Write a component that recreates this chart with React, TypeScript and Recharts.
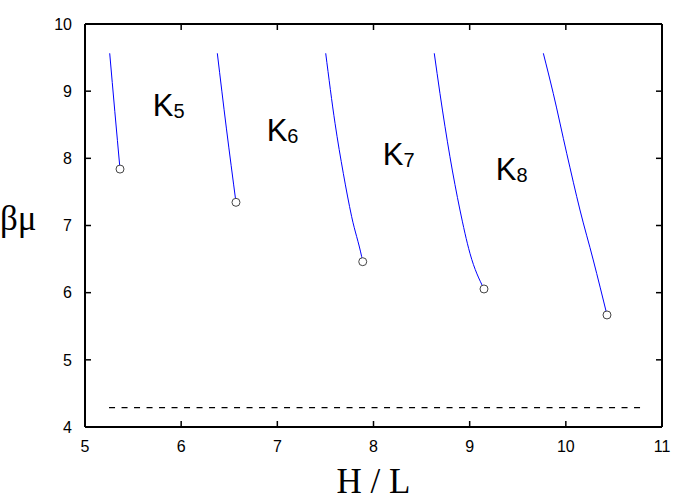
import React from 'react';
import {
  ComposedChart,
  Line,
  XAxis,
  YAxis,
  ReferenceDot,
  Label,
} from 'recharts';

// H/L values for each branch
const k4X = [5.257, 5.31, 5.364];
const k4Y = [9.564, 8.7, 7.84];
const k5X = [6.376, 6.47, 6.57];
const k5Y = [9.564, 8.45, 7.345];
const k6X = [7.503, 7.6, 7.686, 7.773, 7.877, 7.888];
const k6Y = [9.564, 8.522, 7.777, 7.131, 6.536, 6.461];
const k7X = [8.632, 8.691, 8.795, 8.899, 9.003, 9.149];
const k7Y = [9.564, 8.968, 8.024, 7.231, 6.586, 6.055];
const k8X = [9.766, 9.869, 10.009, 10.147, 10.285, 10.428];
const k8Y = [9.564, 8.968, 8.075, 7.231, 6.487, 5.668];

const limitX = [5.25, 10.8];
const limitY = [4.288, 4.288];

const labelNames = ['5', '6', '7', '8'];
const labelX = [5.704, 6.889, 8.096, 9.271];
const labelY = [8.63, 8.258, 7.901, 7.678];

const xTicks = [5, 6, 7, 8, 9, 10, 11];
const yTicks = [4, 5, 6, 7, 8, 9, 10];

const toPoints = (xs: number[], ys: number[]) =>
  xs.map((x, i) => ({ x, y: ys[i] }));

const branches = [
  toPoints(k4X, k4Y),
  toPoints(k5X, k5Y),
  toPoints(k6X, k6Y),
  toPoints(k7X, k7Y),
  toPoints(k8X, k8Y),
];

const sans = 'Liberation Sans, Arial, sans-serif';
const serif = 'Liberation Serif, Times New Roman, serif';
const TICK = 6;

// ticks point into the plot, drawn together with their labels
const BottomTick = (props: any) => {
  const { x, y, payload } = props;
  return (
    <g>
      <line x1={x} x2={x} y1={y - 14} y2={y - 14 - TICK} stroke="#000" strokeWidth={1.5} />
      <text x={x} y={y} dy="0.71em" textAnchor="middle" fontFamily={sans} fontSize={16} fill="#000">
        {payload.value}
      </text>
    </g>
  );
};

const LeftTick = (props: any) => {
  const { x, y, payload } = props;
  return (
    <g>
      <line x1={x + 13} x2={x + 13 + TICK} y1={y} y2={y} stroke="#000" strokeWidth={1.5} />
      <text x={x} y={y} dy="0.355em" textAnchor="end" fontFamily={sans} fontSize={16} fill="#000">
        {payload.value}
      </text>
    </g>
  );
};

const TopTick = (props: any) => {
  const { x, y } = props;
  return <line x1={x} x2={x} y1={y} y2={y + TICK} stroke="#000" strokeWidth={1.5} />;
};

const RightTick = (props: any) => {
  const { x, y } = props;
  return <line x1={x} x2={x - TICK} y1={y} y2={y} stroke="#000" strokeWidth={1.5} />;
};

const endDot = (n: number) => (props: any) => {
  const { cx, cy, index } = props;
  if (index !== n - 1) return <g key={`d-${index}`} />;
  return (
    <circle
      key={`d-${index}`}
      cx={cx}
      cy={cy}
      r={4}
      fill="#fff"
      stroke="#444"
      strokeWidth={1}
    />
  );
};

const KLabel = (sub: string) => (props: any) => {
  const { cx, cy } = props;
  return (
    <text x={cx} y={cy} fontFamily={sans} fontSize={31} fill="#000">
      K
      <tspan fontSize={20} dy={2}>
        {sub}
      </tspan>
    </text>
  );
};

export default function App() {
  return (
    <div style={{ position: 'absolute', left: 0, top: 0 }}>
      <ComposedChart
        width={692}
        height={501}
        margin={{ top: 23, right: 29, left: 0, bottom: 0 }}
      >
        <XAxis
          xAxisId="b"
          type="number"
          dataKey="x"
          domain={[5, 11]}
          ticks={xTicks}
          allowDataOverflow
          height={74}
          tickSize={0}
          tickMargin={14}
          tickLine={false}
          tick={<BottomTick />}
          stroke="#000"
          strokeWidth={2}
        >
          <Label
            content={({ viewBox }: any) => (
              <text
                x={viewBox.x + viewBox.width / 2}
                y={493}
                textAnchor="middle"
                fontFamily={serif}
                fontSize={35}
                fill="#000"
              >
                H / L
              </text>
            )}
          />
        </XAxis>
        <XAxis
          xAxisId="t"
          orientation="top"
          type="number"
          dataKey="x"
          domain={[5, 11]}
          ticks={xTicks}
          allowDataOverflow
          height={1}
          tickSize={0}
          tickMargin={0}
          tickLine={false}
          tick={<TopTick />}
          stroke="#000"
          strokeWidth={2}
        />
        <YAxis
          yAxisId="l"
          type="number"
          domain={[4, 10]}
          ticks={yTicks}
          allowDataOverflow
          width={85}
          tickSize={0}
          tickMargin={13}
          tickLine={false}
          tick={<LeftTick />}
          stroke="#000"
          strokeWidth={2}
        >
          <Label
            content={() => (
              <text x={0} y={230} fontFamily={serif} fontSize={35} fill="#000">
                βμ
              </text>
            )}
          />
        </YAxis>
        <YAxis
          yAxisId="r"
          orientation="right"
          type="number"
          domain={[4, 10]}
          ticks={yTicks}
          allowDataOverflow
          width={1}
          tickSize={0}
          tickMargin={0}
          tickLine={false}
          tick={<RightTick />}
          stroke="#000"
          strokeWidth={2}
        />

        <Line
          xAxisId="b"
          yAxisId="l"
          data={toPoints(limitX, limitY)}
          dataKey="y"
          stroke="#000"
          strokeWidth={1.3}
          strokeDasharray="6 6.5"
          dot={false}
          activeDot={false}
          isAnimationActive={false}
        />

        {branches.map((pts, i) => (
          <Line
            key={i}
            xAxisId="b"
            yAxisId="l"
            data={pts}
            dataKey="y"
            type="monotone"
            stroke="#0000ff"
            strokeWidth={1}
            dot={endDot(pts.length)}
            activeDot={false}
            isAnimationActive={false}
          />
        ))}

        {labelNames.map((n, i) => (
          <ReferenceDot
            key={n}
            xAxisId="b"
            yAxisId="l"
            x={labelX[i]}
            y={labelY[i]}
            r={0}
            shape={KLabel(n)}
          />
        ))}
      </ComposedChart>
    </div>
  );
}
